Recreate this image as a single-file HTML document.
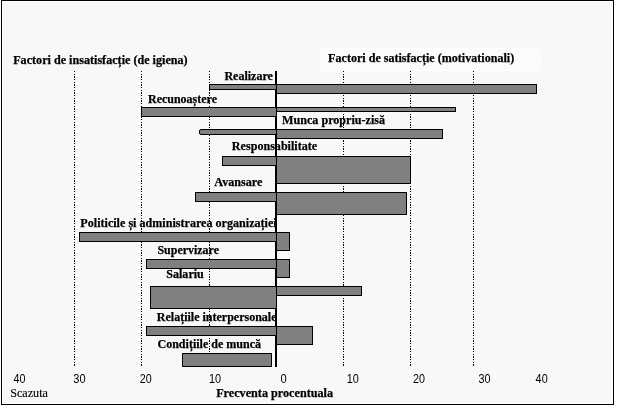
<!DOCTYPE html>
<html lang="ro"><head><meta charset="utf-8"><title>Factori de satisfactie</title>
<style>
html,body{margin:0;padding:0;background:#fff;}
body{width:626px;height:407px;position:relative;overflow:hidden;}
#f{position:absolute;left:1px;top:0;width:611px;height:403px;border:1px solid #000;background:#f8f8f8;box-shadow:inset 0 0 0 1px #fff;}
.b{position:absolute;box-sizing:border-box;border:1px solid #000;background:#808080;}
.g{position:absolute;width:1px;top:71px;height:295px;background:repeating-linear-gradient(to bottom,#000 0,#000 1px,transparent 1px,transparent 3px,#000 3px,#000 4px,transparent 4px,transparent 5px,#000 5px,#000 7px,transparent 7px,transparent 8px);}
#ax{position:absolute;left:275px;top:71px;width:2px;height:296px;background:#000;}
#wb{position:absolute;box-sizing:border-box;left:321px;top:48px;width:219px;height:23px;background:#fbfbfb;border:1px solid #fff;}
.t{position:absolute;white-space:nowrap;font-family:"Liberation Serif",serif;font-weight:bold;font-size:13.3px;line-height:16px;height:16px;color:#000;transform-origin:0 0;-webkit-text-stroke:0.25px #000;}
.r{-webkit-text-stroke:0.15px #000;font-weight:normal;}
.n{position:absolute;white-space:nowrap;font-family:"Liberation Sans",sans-serif;font-size:12.5px;line-height:14px;height:14px;color:#000;transform-origin:0 0;}
</style></head><body>
<div id="f"></div>
<div id="wb"></div>
<div class="g" style="left:74px"></div>
<div class="g" style="left:141px"></div>
<div class="g" style="left:209px"></div>
<div class="g" style="left:343px"></div>
<div class="g" style="left:410px"></div>
<div class="g" style="left:473px"></div>
<div id="ax"></div>
<div class="b" style="left:209px;top:84px;width:68px;height:6px"></div>
<div class="b" style="left:141px;top:107px;width:136px;height:10px"></div>
<div class="b" style="left:199px;top:129px;width:78px;height:6px;border-radius:2px 0 0 2px"></div>
<div class="b" style="left:222px;top:156px;width:55px;height:10px"></div>
<div class="b" style="left:195px;top:192px;width:82px;height:10px"></div>
<div class="b" style="left:79px;top:232px;width:198px;height:10px"></div>
<div class="b" style="left:146px;top:259px;width:131px;height:10px"></div>
<div class="b" style="left:150px;top:286px;width:127px;height:23px"></div>
<div class="b" style="left:146px;top:326px;width:131px;height:10px"></div>
<div class="b" style="left:182px;top:353px;width:90px;height:14px"></div>
<div class="b" style="left:276px;top:84px;width:261px;height:10px"></div>
<div class="b" style="left:276px;top:107px;width:180px;height:5px"></div>
<div class="b" style="left:276px;top:129px;width:167px;height:10px"></div>
<div class="b" style="left:276px;top:156px;width:135px;height:28px"></div>
<div class="b" style="left:276px;top:192px;width:131px;height:23px"></div>
<div class="b" style="left:276px;top:232px;width:14px;height:19px"></div>
<div class="b" style="left:276px;top:259px;width:14px;height:19px"></div>
<div class="b" style="left:276px;top:286px;width:86px;height:10px"></div>
<div class="b" style="left:276px;top:326px;width:37px;height:19px"></div>
<div class="t" id="t0" style="left:0;top:52px;transform:translate(13.21px,0.40px) scaleX(0.9119)">Factori de insatisfacție (de igiena)</div>
<div class="t" id="t1" style="left:0;top:50px;transform:translate(328.12px,-0.30px) scaleX(0.9078)">Factori de satisfacție (motivationali)</div>
<div class="t" id="t2" style="left:0;top:68px;transform:translate(224.38px,-0.30px) scaleX(0.9030)">Realizare</div>
<div class="t" id="t3" style="left:0;top:91px;transform:translate(148.05px,-0.30px) scaleX(0.8999)">Recunoaștere</div>
<div class="t" id="t4" style="left:0;top:112px;transform:translate(282.00px,-0.30px) scaleX(0.9115)">Munca propriu-zisă</div>
<div class="t" id="t5" style="left:0;top:138px;transform:translate(231.87px,-0.30px) scaleX(0.9085)">Responsabilitate</div>
<div class="t" id="t6" style="left:0;top:174px;transform:translate(214.28px,-0.30px) scaleX(0.9138)">Avansare</div>
<div class="t" id="t7" style="left:0;top:215px;transform:translate(80.33px,-0.30px) scaleX(0.9100)">Politicile și administrarea organizației</div>
<div class="t" id="t8" style="left:0;top:242px;transform:translate(157.47px,-0.30px) scaleX(0.8986)">Supervizare</div>
<div class="t" id="t9" style="left:0;top:266px;transform:translate(166.21px,-0.30px) scaleX(0.9091)">Salariu</div>
<div class="t" id="t10" style="left:0;top:309px;transform:translate(156.79px,-0.30px) scaleX(0.9030)">Relațiile interpersonale</div>
<div class="t" id="t11" style="left:0;top:336px;transform:translate(157.47px,-0.30px) scaleX(0.9051)">Condițiile de muncă</div>
<div class="t" id="t12" style="left:0;top:385px;transform:translate(216.14px,-0.30px) scaleX(0.9158)">Frecventa procentuala</div>
<div class="t r" id="t13" style="left:0;top:385px;transform:translate(10.13px,-0.30px) scaleX(0.9155)">Scazuta</div>
<div class="n" id="n0" style="left:0;top:372px;transform:translate(13.53px,-0.05px) scaleX(0.8609)">40</div>
<div class="n" id="n1" style="left:0;top:372px;transform:translate(73.26px,-0.05px) scaleX(0.8835)">30</div>
<div class="n" id="n2" style="left:0;top:372px;transform:translate(139.72px,-0.05px) scaleX(0.8577)">20</div>
<div class="n" id="n3" style="left:0;top:372px;transform:translate(208.94px,-0.05px) scaleX(0.8710)">10</div>
<div class="n" id="n4" style="left:0;top:372px;transform:translate(280.54px,-0.05px) scaleX(0.8920)">0</div>
<div class="n" id="n5" style="left:0;top:372px;transform:translate(346.74px,-0.05px) scaleX(0.8644)">10</div>
<div class="n" id="n6" style="left:0;top:372px;transform:translate(412.97px,-0.05px) scaleX(0.8582)">20</div>
<div class="n" id="n7" style="left:0;top:372px;transform:translate(478.50px,-0.05px) scaleX(0.8675)">30</div>
<div class="n" id="n8" style="left:0;top:372px;transform:translate(535.61px,-0.05px) scaleX(0.8681)">40</div>
</body></html>
